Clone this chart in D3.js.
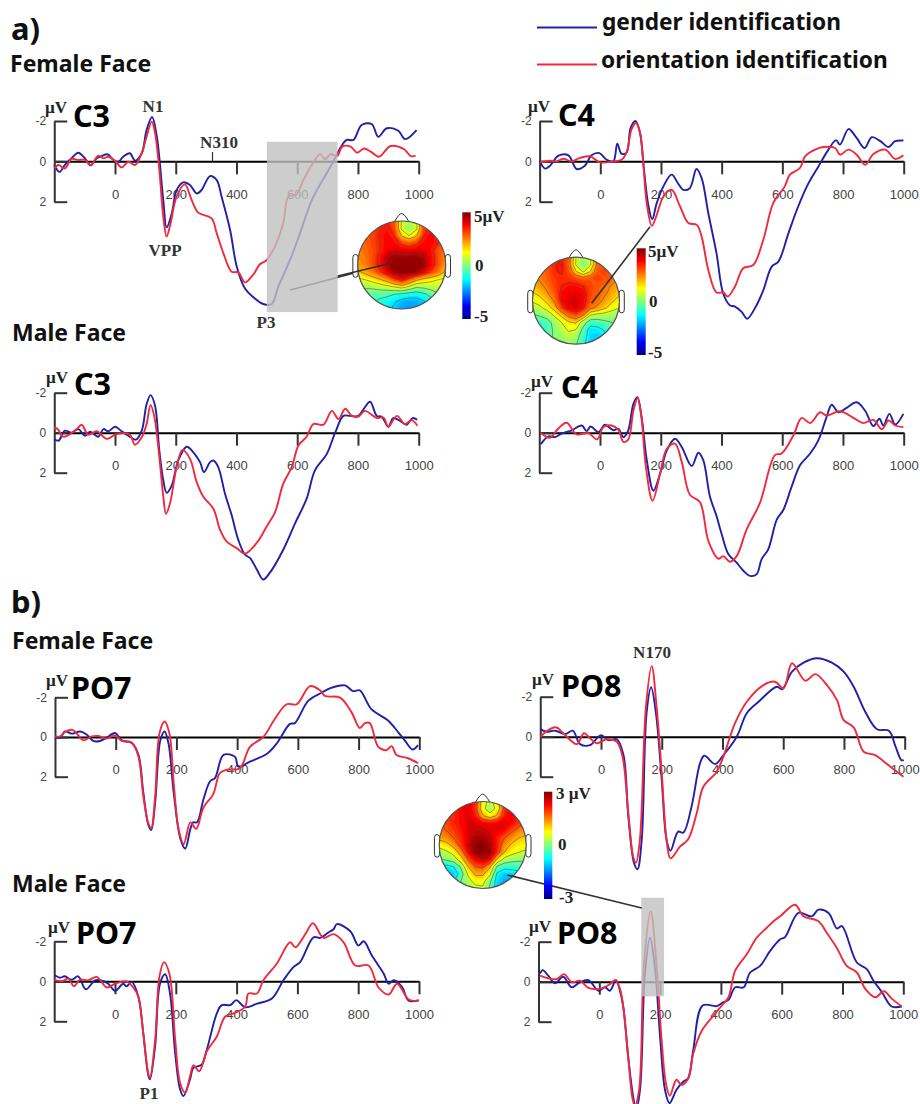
<!DOCTYPE html>
<html>
<head>
<meta charset="utf-8">
<script src="https://cdn.jsdelivr.net/npm/d3@7"></script>
<style>
  html, body { margin: 0; padding: 0; background: #fff; }
  svg { display: block; }
</style>
</head>
<body>
<div id="chart"></div>
<script>
// every waveform is a list of [ms, uV] (negative is up)
const c3FemaleGender = [[-200,.18],[-183,.52],[-165,.18],[-143,-.15],[-121,-.43],[-99,-.15],[-80,.2],[-60,-.15],[-44,-.26],[-25,-.35],[-5,-.07],[11,.02],[27,-.23],[49,-.4],[66,-.03],[88,-.4],[104,-1.55],[122,-2.2],[137,-1.31],[159,1.92],[170,3.27],[187,2.58],[203,1.42],[225,1.04],[247,1.17],[269,1.59],[285,1.42],[313,.73],[335,.93],[351,1.75],[379,3.4],[401,5.22],[428,6.3],[456,6.74],[488,7.07],[516,7.07],[538,6.2],[576,4.9],[609,3.57],[648,1.92],[681,1],[719,0],[741,-.64],[763,-1.06],[785,-1.06],[812,-1.8],[845,-1.85],[867,-1.22],[895,-1.64],[933,-1.52],[955,-1.1],[993,-1.55]];
const c3FemaleOrientation = [[-200,.35],[-186,.18],[-165,.35],[-143,-.12],[-121,-.07],[-99,-.07],[-80,.18],[-55,-.28],[-38,-.15],[-22,-.23],[0,-.03],[22,.3],[44,.02],[66,.18],[88,-.4],[104,-1.22],[121,-1.97],[132,-1.4],[146,.43],[159,2.74],[170,3.73],[183,3.07],[203,1.74],[230,1.14],[252,1.9],[274,2.54],[318,2.83],[335,3.57],[357,4.56],[384,5.47],[406,5.5],[428,6],[456,5.6],[477,5.1],[499,4.9],[527,4.2],[554,3.07],[571,1.75],[598,1.63],[620,.93],[648,.18],[675,-.36],[692,-.1],[710,-.36],[732,-.26],[748,-.73],[776,-.73],[797,-.43],[820,-.64],[842,-.48],[869,-.23],[908,-.76],[952,-.6],[974,-.26],[990,-.28]];
const c4FemaleGender = [[-199,0],[-182,.36],[-166,.22],[-138,-.28],[-105,-.3],[-78,.38],[-51,.22],[-29,-.3],[-3,-.41],[21,-.08],[43,0],[56,-.88],[70,-.38],[87,-.45],[100,-1.66],[116,-2],[131,-1.41],[144,.41],[158,2.15],[171,2.87],[186,2.07],[208,1.24],[235,.66],[257,1.11],[273,1.41],[295,1.33],[317,.38],[334,.83],[356,2.57],[383,4.56],[405,6.55],[427,7.13],[444,7.2],[466,7.46],[484,7.8],[515,7.13],[537,6.4],[565,5.22],[587,4.97],[620,3.57],[648,2.4],[681,1.24],[719,.25],[752,-.58],[777,-1.05],[790,-.83],[818,-1.6],[845,-1.16],[871,-.66],[895,-1.2],[923,-1],[950,-.71],[972,-1],[999,-1.03]];
const c4FemaleOrientation = [[-199,.05],[-166,-.03],[-144,0],[-122,-.13],[-95,0],[-67,-.17],[-34,-.25],[-1,.05],[43,0],[70,-.08],[87,-.46],[103,-1.58],[118,-1.9],[131,-1.41],[142,.17],[153,2.07],[170,3.2],[186,2.65],[208,1.74],[235,1.41],[263,2.24],[290,3.05],[318,3.15],[334,3.73],[356,5.39],[383,6.5],[405,6.5],[420,6.7],[444,6.2],[471,5.3],[504,5.14],[537,3.9],[570,2.07],[608,1.24],[625,.66],[658,.33],[675,-.25],[708,-.58],[735,-.71],[774,-.66],[790,-.33],[818,-.58],[845,-.33],[873,.17],[900,-.36],[939,-.58],[972,-.12],[999,-.3]];
const c3MaleGender = [[-200,.31],[-186,.4],[-165,-.1],[-143,0],[-121,-.18],[-99,.15],[-82,-.05],[-55,.2],[-38,-.18],[-22,-.07],[0,-.3],[22,-.07],[44,.15],[69,.35],[88,-.1],[104,-1.42],[117,-1.88],[132,-1.34],[146,.9],[159,2.38],[170,3],[187,2.63],[208,1.39],[236,.7],[258,.98],[280,1.47],[293,1.97],[313,1.47],[324,1.39],[340,1.72],[362,3.04],[384,4.12],[406,5.36],[428,6.1],[445,6.27],[467,6.84],[488,7.34],[510,7],[554,5.85],[593,4.53],[631,3.3],[658,1.9],[697,1.07],[725,0],[752,-.84],[774,-.84],[801,-.84],[818,-1.17],[840,-1.55],[862,-.84],[878,-.8],[900,-.3],[916,-.73],[938,-.6],[960,-.4],[980,-.73],[995,-.65]];
const c3MaleOrientation = [[-200,-.26],[-189,-.18],[-170,.2],[-148,.07],[-126,-.18],[-110,-.4],[-88,.1],[-60,-.07],[-27,.31],[0,.1],[27,.02],[49,.1],[66,.6],[88,.23],[104,-.43],[117,-1.39],[129,-.84],[146,1.22],[159,3.2],[168,4.05],[181,3.54],[203,1.72],[222,.86],[247,1.31],[269,2.47],[291,3.2],[324,3.8],[346,4.86],[368,5.45],[401,5.77],[428,6.05],[467,5.5],[499,4.7],[527,3.97],[554,2.55],[582,1.72],[604,.64],[631,.2],[653,-.43],[686,-.4],[714,-1.09],[736,-.68],[758,-1.2],[780,-.84],[801,-.8],[823,-1.09],[862,-.73],[884,-.76],[900,-.3],[928,-.84],[955,-.43],[977,-.63],[996,-.35]];
const c4MaleGender = [[-195,.58],[-170,.18],[-148,.22],[-126,.05],[-93,-.12],[-60,-.36],[-44,-.08],[-31,-.31],[-5,-.03],[16,-.4],[44,-.12],[60,-.2],[77,.22],[93,-.12],[110,-1.44],[123,-1.77],[137,-.78],[154,1.37],[176,2.9],[198,2.04],[220,.88],[247,.3],[269,.71],[302,1.67],[324,1],[340,1.37],[362,3.19],[384,4.18],[401,5.09],[423,6.08],[450,6.5],[472,6.9],[494,7.16],[516,7.07],[532,6.33],[554,5.83],[582,4.35],[604,3.85],[631,2.7],[659,1.62],[692,1.04],[719,.38],[746,-.78],[763,-1.4],[785,-1.02],[812,-1.24],[845,-1.52],[873,-1.1],[900,-.33],[920,-.7],[933,-.36],[953,-.94],[972,-.41],[999,-.94]];
const c4MaleOrientation = [[-195,0],[-165,.25],[-138,-.2],[-110,-.5],[-77,.08],[-38,.02],[-9,.33],[11,-.28],[38,-.36],[60,-.15],[77,.46],[93,.35],[110,-1.1],[124,-1.74],[137,-.69],[151,1.7],[173,3.4],[198,2.04],[220,.8],[247,.55],[269,1.46],[296,3.1],[329,3.47],[357,5.42],[390,6.3],[406,6.17],[428,6.45],[450,6.17],[483,4.83],[527,3.5],[576,1.12],[598,1.04],[637,.13],[664,-.74],[692,-.48],[725,-1.02],[746,-.86],[790,-1.07],[840,-.69],[867,-.48],[900,-.64],[928,-.17],[950,-.61],[972,-.36],[999,-.28]];
const po7FemaleGender = [[-200,0],[-183,.03],[-167,-.28],[-145,-.17],[-117,-.28],[-96,-.13],[-74,.2],[-52,.2],[-30,.03],[-2,-.2],[20,.17],[53,.3],[75,.9],[91,2.8],[108,4.46],[117,4.68],[130,3.3],[147,.17],[161,-.28],[174,.33],[191,2.8],[213,5.12],[229,5.62],[246,4.63],[255,4.3],[268,4.3],[289,3.14],[311,2.23],[327,2.07],[355,.9],[393,1],[404,1.49],[442,1.24],[497,.86],[530,.33],[574,-.66],[590,-.7],[634,-1.82],[678,-2.23],[705,-2.45],[755,-2.6],[782,-2.31],[804,-2.35],[842,-1.4],[897,-.83],[930,-.25],[952,.17],[978,.63],[996,.41]];
const po7FemaleOrientation = [[-200,-.03],[-183,-.03],[-167,-.25],[-142,-.36],[-123,-.08],[-107,.17],[-79,-.03],[-57,-.05],[-30,.08],[-2,-.08],[20,.2],[53,.28],[75,.99],[91,2.98],[108,4.38],[117,4.58],[130,2.98],[144,-.17],[161,-.78],[177,-.17],[191,2.31],[207,4.63],[224,5.4],[246,4.3],[265,4.63],[289,3.55],[321,2.89],[343,1.82],[365,1.65],[409,1.57],[442,.5],[486,0],[524,-.91],[563,-1.65],[596,-1.65],[640,-2.56],[673,-2.35],[689,-2.07],[739,-1.98],[777,-1.24],[804,-.45],[821,-.7],[837,-.7],[865,.5],[892,.66],[909,.46],[925,.91],[963,1.07],[996,1.32]];
const po8FemaleGender = [[-199,-.37],[-179,-.25],[-151,-.3],[-118,-.13],[-93,-.3],[-69,.37],[-36,.42],[0,-.08],[24,.17],[52,.13],[74,.92],[90,4],[109,6.33],[120,6.63],[134,5.17],[150,-1.17],[165,-2.47],[181,-1.17],[200,2.17],[216,5.17],[229,5.7],[254,4.75],[271,4.8],[298,3.5],[326,1.33],[340,.95],[376,1.37],[403,.92],[447,0],[480,-1.17],[519,-1.75],[579,-2.5],[596,-2.37],[629,-3.25],[667,-3.7],[711,-3.92],[760,-3.7],[799,-3.25],[832,-2.5],[870,-1.25],[909,-.37],[948,-.3],[970,.5],[989,1.17],[997,1.17]];
const po8FemaleOrientation = [[-199,0],[-174,-.33],[-148,-.47],[-124,-.17],[-80,.37],[-56,-.17],[-36,.08],[-14,.33],[19,.13],[52,.25],[71,1],[90,3.83],[106,6],[115,6.3],[128,5.17],[148,-1.5],[167,-3.53],[183,-1.5],[200,1.83],[216,5.17],[229,6.08],[260,5.5],[287,5.13],[315,3.83],[337,2.5],[381,1.75],[403,1],[441,-.67],[480,-1.75],[535,-2.58],[573,-2.75],[601,-2.42],[629,-3.67],[673,-2.8],[706,-3.13],[744,-2.58],[777,-1.83],[799,-.83],[832,-.47],[865,.75],[903,.92],[946,1.42],[996,2]];
const po7MaleGender = [[-198,-.3],[-181,-.18],[-165,-.25],[-143,-.08],[-121,-.25],[-96,.4],[-66,-.05],[-49,-.05],[-22,.12],[0,.48],[27,.12],[38,.25],[55,.03],[77,.78],[93,2.6],[110,4.74],[115,4.9],[132,3.25],[148,.12],[165,-.35],[181,.61],[198,3.6],[214,5.4],[225,5.74],[247,4.9],[258,4.33],[285,4.17],[302,3.42],[335,1.6],[351,1.19],[379,1.19],[399,.94],[428,1.3],[467,1.12],[516,.86],[554,-.05],[587,-.71],[609,-.96],[653,-2.2],[675,-2.17],[703,-2.45],[719,-2.6],[730,-2.86],[774,-2.5],[801,-1.79],[818,-2],[845,-1.29],[884,-.38],[900,.12],[917,-.05],[944,.28],[966,.97],[999,.94]];
const po7MaleOrientation = [[-200,-.08],[-175,0],[-154,-.13],[-135,.25],[-115,-.08],[-88,-.05],[-60,-.22],[-27,.31],[0,.12],[38,0],[60,.31],[77,.78],[93,2.6],[110,4.66],[115,4.82],[132,2.93],[146,-.22],[161,-.96],[179,-.38],[198,2.93],[214,5.07],[231,5.57],[247,4.74],[258,4.2],[277,4.5],[302,3.5],[335,2.76],[362,1.77],[390,1.6],[428,1.27],[439,.61],[467,.61],[488,-.05],[532,-.88],[576,-1.95],[593,-1.7],[626,-2.36],[651,-2.9],[686,-2.17],[719,-2.36],[752,-1.95],[790,-.79],[834,-.79],[867,.31],[900,.66],[928,.12],[966,.91],[999,.97]];
const po8MaleGender = [[-195,-.41],[-186,-.58],[-168,-.3],[-146,.08],[-119,-.25],[-91,.28],[-64,.03],[-36,-.08],[-3,.45],[19,.28],[35,.45],[55,-.08],[68,.45],[79,1.27],[95,3.75],[112,5.82],[121,6.4],[134,5.4],[150,-.38],[167,-2.2],[183,-.71],[200,2.76],[216,5.4],[231,6.07],[254,5.4],[276,5],[292,4.83],[309,3.42],[340,1.19],[386,1.22],[408,1.02],[425,.91],[447,.28],[475,.28],[496,-.46],[529,-.79],[562,-1.54],[595,-2.12],[611,-2.23],[655,-3.44],[699,-3.27],[721,-3.6],[754,-3.44],[782,-2.66],[798,-2.78],[847,-.96],[880,-.63],[902,-.05],[930,.53],[962,1.24],[995,1.24]];
const po8MaleOrientation = [[-195,-.3],[-168,-.17],[-140,-.13],[-116,-.38],[-91,.03],[-64,-.05],[-36,.31],[2,.36],[35,.12],[52,-.08],[68,.36],[79,1.27],[95,3.75],[109,5.82],[117,6.2],[131,5.4],[147,-.88],[169,-3.52],[188,-.88],[205,2.93],[219,5.07],[232,5.7],[254,4.9],[271,5.16],[293,4.83],[309,3.6],[337,2.45],[376,1.69],[403,1.19],[425,.78],[447,-.55],[485,-1.37],[518,-2.2],[551,-2.7],[579,-3.1],[595,-3.27],[644,-3.85],[672,-3.27],[721,-3.02],[748,-2.45],[781,-1.7],[814,-.79],[847,-.46],[875,.36],[908,.78],[936,.48],[963,.86],[995,1.24]];

const xTicks = [0, 200, 400, 600, 800, 1000];
const yTicks = [-2, 0, 2];
const seriesNames = ['gender identification', 'orientation identification'];

// scalp maps, 13 x 13 values in uV
const mapC3 = [
  [3,3,3.1,3.4,3.5,3.1,1.1,.5,1.1,3.1,3.5,3.3,3],
  [3,3,3.2,3.5,3.7,3.2,1,.3,1,3.2,3.7,3.4,3],
  [2.9,3,3.2,3.6,3.9,3.5,1.9,1.2,1.9,3.5,3.9,3.5,3],
  [2.7,2.9,3.2,3.5,3.9,3.8,3.3,3,3.3,3.8,3.9,3.5,2.9],
  [2.6,2.8,3.1,3.5,4,4.2,4.1,4,4.1,4.1,3.7,3.1,2.6],
  [2.5,2.7,3.1,3.7,4.5,4.8,4.8,4.8,4.9,4.6,3.9,3.1,2.5],
  [2.3,2.6,3.1,3.7,4.6,5,5,5,5,4.8,3.9,3.1,2.3],
  [1.8,2.2,2.7,3.3,4,4.7,4.9,4.9,4.7,4,3.3,2.6,1.8],
  [1,1.2,1.5,1.9,2.4,3.2,3.8,3.1,2.2,1.7,1.4,1.2,1],
  [.4,.4,.5,.7,.9,1.2,1.5,1,.4,.5,.7,.8,.6],
  [0,-.1,-.3,-.3,-.4,-.6,-.8,-1,-1.1,-.8,-.3,.2,.2],
  [-.3,-.3,-.5,-.8,-1,-1.4,-1.8,-2,-1.9,-1.6,-1,-.3,-.3],
  [-.5,-.5,-.7,-1,-1.3,-1.7,-2.1,-2.2,-2.1,-1.8,-1.2,-.5,-.5]
];
const mapC4 = [
  [2.6,2.6,2.8,3.2,3.5,3,1,.5,1,2.9,3,2.8,2.5],
  [2.6,2.7,3,3.5,3.8,2.9,.9,0,.9,2.9,3.1,2.9,2.6],
  [2.6,2.7,3,3.5,3.7,3.1,1.8,.9,1.8,3.1,3.2,3,2.6],
  [2.4,2.6,2.9,3.3,3.4,3.4,3.2,3,3.1,3.2,3.1,2.8,2.4],
  [2,2.3,2.7,3.2,3.6,3.8,3.8,3.6,3.2,3,2.8,2.4,2.1],
  [1.6,1.9,2.4,3,3.8,4,4.1,3.9,3.2,2.9,2.6,2.2,1.8],
  [1.1,1.4,1.9,2.6,3.8,4.2,4.3,3.9,3.1,2.8,2.3,1.8,1.4],
  [.6,.8,1.3,2,3.3,4,4.2,3.7,2.7,2.3,1.8,1.3,1],
  [-.1,.1,.4,1.1,1.9,2.8,3.2,2.5,1,.7,.6,.5,.3],
  [-.7,-.7,-.4,.3,1,1.6,1.8,.5,-.6,-.5,-.2,0,0],
  [-1,-1,-.6,.2,.7,1.1,1,-.3,-1.4,-1.3,-.9,-.5,-.5],
  [-.8,-.8,-.3,.1,.4,.7,.4,-.6,-1.5,-1.6,-1.2,-.8,-.8],
  [-.6,-.5,-.1,.1,.2,.3,.1,-.8,-1.5,-1.6,-1.2,-.8,-.8]
];
const mapPO8 = [
  [1.9,2,2.1,2.3,2.5,2.1,.9,.4,.9,2.1,2.4,2.1,1.8],
  [1.9,2,2.1,2.3,2.5,2,.8,.2,.8,2,2.5,2.2,1.8],
  [1.9,2,2.1,2.3,2.5,2.2,1.3,.9,1.3,2.2,2.4,2.1,1.7],
  [1.8,1.9,2.1,2.3,2.5,2.5,2.4,2.3,2.4,2.5,2.3,2,1.6],
  [1.6,1.8,2,2.2,2.5,2.6,2.6,2.5,2.4,2.3,1.9,1.6,1.4],
  [1.4,1.5,1.8,2.1,2.5,2.8,2.8,2.6,2.2,1.8,1.5,1.2,1.1],
  [.8,1,1.4,2,2.6,3,3,2.8,2.2,1.5,1.1,.9,.8],
  [.3,.5,.8,1.5,2.4,2.9,3,2.9,2.1,1.2,.8,.6,.5],
  [-.1,.1,.3,.9,1.8,2.4,2.6,2.4,1.1,.4,.2,.1,.1],
  [-.8,-.8,-.6,.1,1.2,1.8,1.9,1.3,-.1,-.4,-.4,-.3,-.3],
  [-1.1,-1.1,-1,-.3,.7,1.3,1.3,.7,-.7,-1,-.9,-.8,-.7],
  [-1,-1,-.7,0,.4,.8,.8,.1,-.9,-1.2,-1.1,-.9,-.8],
  [-.8,-.8,-.4,0,.2,.4,.5,-.1,-.9,-1.1,-1,-.8,-.8]
];

const BLUE = '#2020a8';
const RED = '#f02a3c';
const SERIF = '"Liberation Serif", serif';
const ARIAL = '"Liberation Sans", Arial, sans-serif';
const HEAD = '"Noto Sans", "Open Sans", sans-serif';

const svg = d3.select('#chart').append('svg')
    .attr('width', 920)
    .attr('height', 1104)
    .style('background', '#fff');

const defs = svg.append('defs');
defs.append('filter').attr('id', 'soft')
  .append('feGaussianBlur').attr('stdDeviation', 0.7);

const jet = d3.scaleLinear()
    .domain([0, .125, .375, .5, .625, .875, 1])
    .range(['#00007f', '#0000ff', '#00ffff', '#7fff7f', '#ffff00', '#ff0000', '#7f0000']);

const gradient = defs.append('linearGradient').attr('id', 'jetBar')
    .attr('x1', 0).attr('x2', 0).attr('y1', 1).attr('y2', 0);
gradient.selectAll('stop').data(jet.domain()).enter().append('stop')
    .attr('offset', d => d)
    .attr('stop-color', d => jet(d));

const line = (x, y) => d3.line()
    .x(d => x(d[0]))
    .y(d => y(d[1]))
    .curve(d3.curveCatmullRom.alpha(0.5));

function drawPanel(p) {
    const x = d3.scaleLinear().domain([0, 1000]).range([p.x0, p.x1000]);
    const y = d3.scaleLinear().domain([-2, 2]).range([p.yTop, p.yBottom]);
    const g = svg.append('g');

    const xAxisScale = d3.scaleLinear().domain([-200, 1000]).range([x(-200), x(1000)]);
    const xAxis = g.append('g')
        .attr('transform', `translate(0, ${y(0)})`)
        .call(d3.axisBottom(xAxisScale).tickValues(xTicks).tickSize(13).tickSizeOuter(0)
            .tickPadding(p.labelPad || 15).tickFormat(d => d));
    xAxis.select('.domain').attr('stroke', '#000').attr('stroke-width', 2);
    xAxis.selectAll('.tick line').attr('stroke', '#333').attr('stroke-width', 2);
    xAxis.selectAll('text').attr('font-family', ARIAL).attr('font-size', 13).attr('fill', '#444');

    const yAxis = g.append('g')
        .attr('transform', `translate(${x(-200)}, 0)`)
        .call(d3.axisLeft(y).tickValues(yTicks).tickSize(-13).tickSizeOuter(0)
            .tickPadding(8).tickFormat(d => String(d)));
    yAxis.select('.domain').attr('stroke', '#333').attr('stroke-width', 2);
    yAxis.selectAll('.tick line').attr('stroke', '#333').attr('stroke-width', 2);
    yAxis.selectAll('text').attr('font-family', ARIAL).attr('font-size', 12).attr('fill', '#444');

    const draw = line(x, y);
    g.append('path').datum(p.gender).attr('d', draw)
        .attr('fill', 'none').attr('stroke', BLUE).attr('stroke-width', 1.9);
    g.append('path').datum(p.orientation).attr('d', draw)
        .attr('fill', 'none').attr('stroke', RED).attr('stroke-width', 1.9);

    g.append('text').attr('x', p.nameX).attr('y', p.nameY)
        .attr('font-family', HEAD).attr('font-weight', 700).attr('font-size', 30.5)
        .attr('fill', '#000').text(p.name);
    g.append('text').attr('x', p.unitX).attr('y', p.unitY)
        .attr('font-family', SERIF).attr('font-weight', 700).attr('font-size', 17)
        .attr('fill', '#222').text('µV');

    if (p.band) {
        if (p.leader) {
            g.append('line')
                .attr('x1', p.leader[0]).attr('y1', p.leader[1])
                .attr('x2', p.leader[2]).attr('y2', p.leader[3])
                .attr('stroke', '#333').attr('stroke-width', 1.6);
        }
        g.append('rect')
            .attr('x', x(p.band[0]))
            .attr('width', x(p.band[1]) - x(p.band[0]))
            .attr('y', y(p.band[2]))
            .attr('height', y(p.band[3]) - y(p.band[2]))
            .attr('fill', '#c0c0c0')
            .attr('opacity', 0.8);
    }
}

function drawHead(h) {
    const g = svg.append('g');
    const id = 'clip' + Math.round(h.cx);
    defs.append('clipPath').attr('id', id)
      .append('circle').attr('cx', h.cx).attr('cy', h.cy).attr('r', h.r);

    const n = h.values.length;
    const flat = h.values.flat();
    const k = 2 * h.r / (n - 1);
    const path = d3.geoPath(d3.geoIdentity().scale(k)
        .translate([h.cx - h.r - 0.5 * k, h.cy - h.r - 0.5 * k]));
    const colour = v => jet((v + h.max) / (2 * h.max));

    // ears and nose sit behind the scalp disc
    const sideEars = [-1, 1];
    g.selectAll('.ear').data(sideEars).enter().append('rect')
        .attr('class', 'ear')
        .attr('x', d => d < 0 ? h.cx - h.r * 1.11 : h.cx + h.r * 0.99)
        .attr('y', h.cy - h.r * 0.24)
        .attr('width', h.r * 0.12)
        .attr('height', h.r * 0.52)
        .attr('rx', 3)
        .attr('fill', '#fff').attr('stroke', '#333').attr('stroke-width', 1);
    g.append('path')
        .attr('d', `M${h.cx - h.r * 0.16},${h.cy - h.r * 0.99}
            Q${h.cx - h.r * 0.06},${h.cy - h.r * 1.17} ${h.cx},${h.cy - h.r * 1.17}
            Q${h.cx + h.r * 0.06},${h.cy - h.r * 1.17} ${h.cx + h.r * 0.16},${h.cy - h.r * 0.99}`)
        .attr('fill', '#fff').attr('stroke', '#333').attr('stroke-width', 1);

    const clipped = g.append('g').attr('clip-path', `url(#${id})`);
    clipped.append('circle').attr('cx', h.cx).attr('cy', h.cy).attr('r', h.r).attr('fill', colour(-h.max));

    const levels = d3.range(-h.max, h.max + 0.001, h.max / 24);
    const bands = d3.contours().size([n, n]).smooth(true).thresholds(levels)(flat);
    const soft = clipped.append('g').attr('filter', 'url(#soft)');
    soft.selectAll('path').data(bands).enter().append('path')
        .attr('d', path)
        .attr('fill', d => colour(d.value));

    const lines = d3.contours().size([n, n]).smooth(true).thresholds(h.lines)(flat);
    clipped.append('g').selectAll('path').data(lines).enter().append('path')
        .attr('d', path)
        .attr('fill', 'none')
        .attr('stroke', '#444')
        .attr('stroke-opacity', 0.65)
        .attr('stroke-width', 0.8);

    g.append('circle').attr('cx', h.cx).attr('cy', h.cy).attr('r', h.r)
        .attr('fill', 'none').attr('stroke', '#555').attr('stroke-width', 1.2);

    if (h.leader) {
        g.append('line')
            .attr('x1', h.leader[0]).attr('y1', h.leader[1])
            .attr('x2', h.leader[2]).attr('y2', h.leader[3])
            .attr('stroke', '#333').attr('stroke-width', 1.6);
    }

    // colour bar
    const b = h.bar;
    g.append('rect').attr('x', b.x).attr('y', b.y).attr('width', b.w).attr('height', b.h)
        .attr('fill', 'url(#jetBar)');
    g.selectAll('.barLabel').data(h.barLabels).enter().append('text')
        .attr('class', 'barLabel')
        .attr('x', d => d.x).attr('y', d => d.y)
        .attr('font-family', SERIF).attr('font-weight', 700).attr('font-size', 17)
        .attr('fill', '#222')
        .text(d => d.text);
}

const panels = [
    {name: 'C3', gender: c3FemaleGender, orientation: c3FemaleOrientation,
     x0: 115, x1000: 418.7, yTop: 121, yBottom: 201.7, nameX: 73, nameY: 127, unitX: 45, unitY: 113,
     band: [500, 733, -.97, 7.47], leader: [290, 290, 388, 264]},
    {name: 'C4', gender: c4FemaleGender, orientation: c4FemaleOrientation,
     x0: 600.3, x1000: 903.7, yTop: 121, yBottom: 201.7, nameX: 558, nameY: 126, unitX: 528, unitY: 112},
    {name: 'C3', gender: c3MaleGender, orientation: c3MaleOrientation,
     x0: 115, x1000: 418.7, yTop: 392.7, yBottom: 472.7, nameX: 74, nameY: 395, unitX: 46, unitY: 383},
    {name: 'C4', gender: c4MaleGender, orientation: c4MaleOrientation,
     x0: 600, x1000: 903.7, yTop: 392.7, yBottom: 472.7, nameX: 561, nameY: 398, unitX: 531, unitY: 387},
    {name: 'PO7', gender: po7FemaleGender, orientation: po7FemaleOrientation,
     x0: 115.7, x1000: 419.3, yTop: 697.3, yBottom: 776.7, nameX: 71, nameY: 699, unitX: 46, unitY: 686},
    {name: 'PO8', gender: po8FemaleGender, orientation: po8FemaleOrientation,
     x0: 601, x1000: 904.7, yTop: 696.7, yBottom: 776.7, nameX: 561, nameY: 697, unitX: 532, unitY: 685},
    {name: 'PO7', gender: po7MaleGender, orientation: po7MaleOrientation,
     x0: 115, x1000: 419, yTop: 941.3, yBottom: 1021.3, nameX: 76, nameY: 944, unitX: 48, unitY: 933},
    {name: 'PO8', gender: po8MaleGender, orientation: po8MaleOrientation,
     x0: 599.3, x1000: 903.3, yTop: 941.7, yBottom: 1021.7, nameX: 557, nameY: 944, unitX: 529, unitY: 932,
     band: [138, 213, -4.2, .73]}
];
panels.forEach(drawPanel);

const heads = [
    {cx: 401.7, cy: 265, r: 44, max: 5, values: mapC3, lines: [-1.5, -.6, .3, 1.2, 2, 3.5, 4.5],
     leader: [337.7, 276, 388, 264],
     bar: {x: 462.3, y: 212.3, w: 8.4, h: 106.7},
     barLabels: [{text: '5µV', x: 474, y: 222}, {text: '0', x: 475, y: 271}, {text: '-5', x: 474, y: 322}]},
    {cx: 576, cy: 300.7, r: 43.5, max: 5, values: mapC4, lines: [-1, 0, 1, 1.7, 2.5, 3.6],
     leader: [650, 226.7, 591.7, 303.3],
     bar: {x: 636.7, y: 248.3, w: 9, h: 106.7},
     barLabels: [{text: '5µV', x: 648, y: 257}, {text: '0', x: 649, y: 307}, {text: '-5', x: 648, y: 358}]},
    {cx: 482.7, cy: 845, r: 43.5, max: 3, values: mapPO8, lines: [-.6, 0, .6, 1.2, 1.8, 2.6],
     leader: [507.3, 875, 641.7, 908],
     bar: {x: 544, y: 791.7, w: 8.3, h: 107.3},
     barLabels: [{text: '3 µV', x: 556, y: 799}, {text: '0', x: 558, y: 850}, {text: '-3', x: 559, y: 903}]}
];
heads.forEach(drawHead);

// legend
const legendRows = [{y: 27.5, labelY: 30, x: 602, colour: BLUE}, {y: 64.5, labelY: 68, x: 601, colour: RED}];
seriesNames.forEach((name, i) => {
    const row = legendRows[i];
    svg.append('line').attr('x1', 537).attr('x2', 597).attr('y1', row.y).attr('y2', row.y)
        .attr('stroke', row.colour).attr('stroke-width', 1.8);
    svg.append('text').attr('x', row.x).attr('y', row.labelY)
        .attr('font-family', HEAD).attr('font-weight', 700).attr('font-size', 22.7)
        .attr('fill', '#111').text(name);
});

// section headings
const headings = [
    {text: 'a)', x: 11, y: 40, size: 31},
    {text: 'Female Face', x: 10, y: 72, size: 23},
    {text: 'Male Face', x: 12, y: 341, size: 23},
    {text: 'b)', x: 11, y: 613, size: 31},
    {text: 'Female Face', x: 12, y: 649, size: 23},
    {text: 'Male Face', x: 12, y: 892, size: 23}
];
svg.selectAll('.heading').data(headings).enter().append('text')
    .attr('class', 'heading')
    .attr('x', d => d.x).attr('y', d => d.y)
    .attr('font-family', HEAD).attr('font-weight', 700)
    .attr('font-size', d => d.size)
    .attr('fill', '#111')
    .text(d => d.text);

// component labels
const components = [
    {text: 'N1', x: 153, y: 112},
    {text: 'N310', x: 219, y: 148},
    {text: 'VPP', x: 165, y: 256},
    {text: 'P3', x: 266, y: 328},
    {text: 'N170', x: 652, y: 658},
    {text: 'P1', x: 149, y: 1099}
];
svg.selectAll('.component').data(components).enter().append('text')
    .attr('class', 'component')
    .attr('x', d => d.x).attr('y', d => d.y)
    .attr('text-anchor', 'middle')
    .attr('font-family', SERIF).attr('font-weight', 700).attr('font-size', 17)
    .attr('fill', '#333')
    .text(d => d.text);
svg.append('line').attr('x1', 212.5).attr('x2', 212.5).attr('y1', 152).attr('y2', 161)
    .attr('stroke', '#333').attr('stroke-width', 1.2);
</script>
</body>
</html>
